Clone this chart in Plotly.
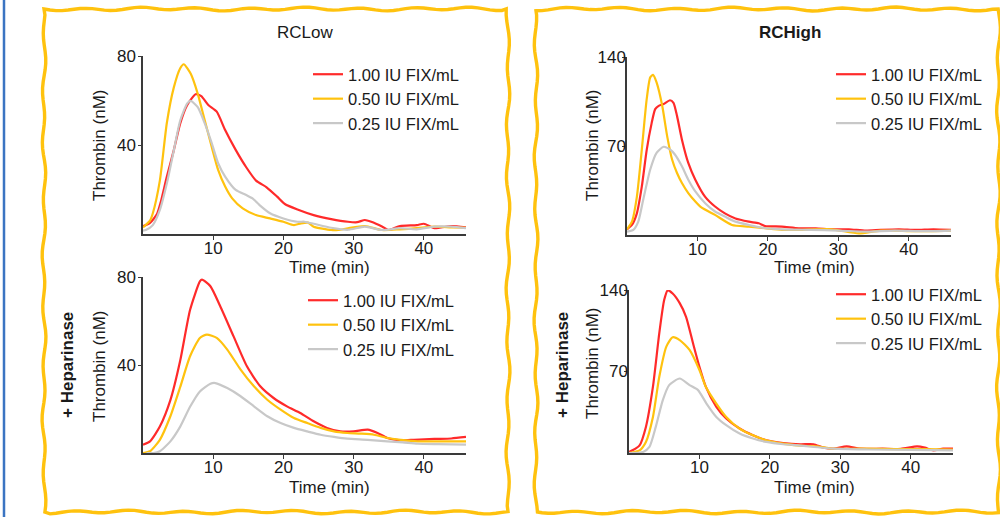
import math
import plotly.graph_objects as go

W, H = 1000, 517

# ---------------- data ----------------
series_names = ["1.00 IU FIX/mL", "0.50 IU FIX/mL", "0.25 IU FIX/mL"]
series_colors = ["#FF2A2A", "#FFC20E", "#C8C8C8"]

# RCLow (top-left)
low_red_t = [0, 1, 2, 2.5, 3.4, 4.4, 5.3, 6.3, 7.5, 8.3, 9.3, 10.5, 11.7, 13.2, 14.7, 16.1, 17.6, 19.1, 20.2, 22, 24.3, 26.8, 29.2, 30.5, 31.6, 32.5, 34.1, 35, 36.6, 39, 40, 41.5, 43.9, 46]
low_red_v = [3.5, 5, 9, 14, 25.8, 37.8, 49.7, 58, 62.8, 62, 58, 55, 46.7, 37.8, 30, 24, 21, 16.8, 13.5, 11, 8.5, 6.7, 5.5, 5.3, 6.3, 5.5, 3.3, 1.8, 3.6, 4, 4.6, 2.6, 3.6, 3]
low_yel_t = [0, 1, 1.4, 2.4, 3.4, 4.4, 5.3, 5.8, 6.8, 7.8, 8.8, 9.8, 10.7, 11.7, 12.7, 14.2, 16.1, 18.1, 20, 21.5, 22.5, 23.5, 24.3, 26.8, 27.8, 29.2, 31.6, 34, 36.6, 39, 41.5, 43.9, 46]
low_yel_v = [3, 6, 9.3, 24, 50, 66, 74.5, 76.3, 72, 63, 51, 39, 28.8, 21.3, 16, 11.5, 8.5, 7, 5.5, 4, 4.8, 5.1, 3.3, 1.8, 1.8, 2.6, 3.6, 1.8, 2.1, 2.6, 3.3, 3, 2.8]
low_gry_t = [0, 0.4, 1.4, 2.4, 3.4, 4.4, 5.3, 6.3, 6.8, 7.8, 8.8, 9.8, 10.7, 11.7, 13.2, 14.7, 15.6, 16.6, 18.1, 20, 22, 23, 24.3, 26.8, 29.2, 31.6, 34, 36.6, 39, 41.5, 43.9, 46]
low_gry_v = [1.5, 1.8, 4, 10.8, 22.8, 37.8, 51, 58.7, 59.8, 57, 49.7, 40.7, 31.8, 25.8, 19.8, 17.5, 16, 13, 9.3, 7, 5.5, 5.5, 4.6, 2.8, 1.9, 3.3, 1.8, 2.6, 2.1, 3.3, 3.3, 2.6]

# RCHigh (top-right)
high_red_t = [0, 0.7, 1.4, 2.1, 2.8, 3.5, 4, 4.5, 5.2, 6.1, 6.6, 7.1, 7.8, 8.7, 9.7, 11.1, 12.5, 13.9, 15.4, 17.3, 18.7, 19.6, 22, 24.4, 26.8, 29, 31.5, 33.9, 36, 38.6, 41, 43.5, 46]
high_red_v = [4.5, 7.9, 17, 38, 67, 88, 99, 101.6, 103, 106, 104, 93.7, 75, 56.7, 43.5, 30, 22.4, 17, 13, 10.5, 9.2, 7.1, 6.6, 5.3, 5.3, 4.5, 4.5, 3.4, 4, 4.5, 4, 4.5, 4]
high_yel_t = [0, 0.7, 1.4, 2.1, 2.8, 3.3, 3.7, 4.2, 5, 5.7, 6.4, 7.1, 7.8, 8.7, 9.7, 10.5, 12.5, 14.9, 17.3, 19.6, 22, 24.4, 29, 32.9, 36, 41, 46]
high_yel_v = [4.5, 10.5, 30, 67, 107, 124, 125.9, 120, 101.6, 77.8, 59.4, 48.8, 40.9, 33, 26.4, 22, 15.8, 7.9, 6.6, 5.3, 4, 4, 4.5, 1.3, 3.5, 3, 3.5]
high_gry_t = [0, 0.9, 1.6, 2.3, 3.3, 4.2, 5.2, 6.1, 6.8, 7.8, 8.7, 9.7, 11.1, 12.5, 13.9, 15.4, 17.3, 19.6, 22, 26, 30, 33.9, 38, 42, 46]
high_gry_v = [2.6, 4, 10.5, 27.7, 51.5, 64.6, 69.4, 67.3, 63.3, 54, 43.5, 34.3, 25, 18.5, 14.5, 10.5, 7.9, 5.3, 4.5, 4, 3.5, 2.6, 3.5, 3, 3.5]

# RCLow + Heparinase (bottom-left)
lowh_red_t = [0, 1, 2.4, 3.9, 5.3, 6.7, 8.1, 8.4, 9.6, 11, 12.9, 14.8, 16.7, 18.6, 20.5, 22.4, 24.3, 26.2, 28.1, 30, 32, 33.4, 34.8, 36.7, 38.6, 41.5, 43.9, 46]
lowh_red_v = [3.8, 5.3, 12, 24, 42, 65, 78, 78.8, 75.8, 66.7, 53, 39.4, 30.3, 25, 21.2, 18.2, 14.4, 11.4, 9.8, 9.8, 10.6, 9.1, 6.8, 5.8, 6, 6.4, 6.6, 7.3]
lowh_yel_t = [0, 1, 2.4, 3.9, 5.3, 6.7, 8.1, 9.1, 10.5, 12, 13.9, 15.8, 17.7, 19.6, 21.5, 23.4, 25.3, 27.2, 29.1, 31, 32.9, 34.8, 36.7, 39.1, 42, 46]
lowh_yel_v = [0, 0.8, 6, 16.7, 30, 44, 52.3, 53.8, 52.3, 47, 37.9, 30.3, 24.2, 19.7, 15.9, 13.6, 11.4, 9.8, 9.1, 8.8, 8.3, 6.8, 6, 5.3, 5.3, 5.3]
lowh_gry_t = [0.5, 1.5, 2.4, 3.9, 5.3, 6.7, 8.1, 9.6, 10.3, 12, 13.9, 15.8, 17.7, 19.6, 21.5, 23.4, 25.3, 27.2, 29.1, 32, 34.8, 37, 39.1, 42, 46]
lowh_gry_v = [0, 0, 0.8, 5.3, 12, 21, 28, 31.5, 31.8, 29.5, 25.8, 21.2, 16.7, 13.6, 11.4, 9.8, 8.3, 7.3, 6.5, 6, 5.3, 4.8, 4.2, 4, 3.8]

# RCHigh + Heparinase (bottom-right)
highh_red_t = [0, 0.5, 1.5, 2.4, 3.4, 4.3, 5, 5.5, 6.2, 7.2, 8.1, 9.1, 10, 10.9, 12.4, 13.8, 15.7, 17.6, 19.5, 21.9, 24.3, 26.2, 27.6, 29, 30.9, 32.8, 36, 38.6, 40.9, 42, 43.2, 44.6, 46]
highh_red_v = [1, 2.3, 6.6, 22.4, 57, 103, 131.6, 139.7, 137, 128.7, 117, 94, 74, 57, 39.7, 29.6, 21, 15.2, 10.9, 8.6, 7.5, 7.5, 4.6, 3.7, 5.7, 3.7, 3.7, 3.5, 5.7, 4.6, 2.3, 3.7, 3.7]
highh_yel_t = [0, 1.5, 2.4, 3.4, 4.3, 5.3, 6.2, 7.2, 8.6, 10, 10.9, 12.4, 13.8, 15.7, 17.6, 19.5, 21.9, 24.3, 26.6, 29, 33, 38, 42, 46]
highh_yel_v = [0, 2.3, 9.5, 31, 65.5, 91.4, 99.4, 97, 88.5, 71.3, 57, 42.5, 31, 21, 15.2, 10.9, 8, 6.3, 5.7, 3.7, 3.7, 3.4, 3.4, 2.9]
highh_gry_t = [0, 2, 2.9, 3.8, 4.8, 5.7, 7.2, 8.6, 9.8, 11, 12.4, 13.8, 15.7, 17.6, 19.5, 21.9, 24.3, 29, 34, 40, 46]
highh_gry_v = [0, 0.9, 5.2, 22.4, 45.4, 58.3, 64, 58.3, 54, 42.5, 31, 23.9, 16.7, 12.4, 9.5, 7.5, 6.3, 3.7, 3, 2.6, 2.3]

x_ticks = [10, 20, 30, 40]
low_y_ticks = [40, 80]
high_y_ticks = [70, 140]

# ---------------- layout helpers ----------------
def px(x):
    return x / W

def py(y):
    return 1 - y / H

FONT = "Liberation Sans, Arial, sans-serif"
TXT = "#1a1a1a"
AX = "#3a3a3a"

panels = [
    # (suffix, x0, x1, ytop, ybottom, ymax, yticks, ylabel standoff, data, legend key, legend text x, legend first row y)
    ("", 143, 466, 56, 234, 80, low_y_ticks, -1,
     [(low_red_t, low_red_v), (low_yel_t, low_yel_v), (low_gry_t, low_gry_v)], "legend", 348, 72),
    ("2", 627, 951, 57, 235, 140, high_y_ticks, -7,
     [(high_red_t, high_red_v), (high_yel_t, high_yel_v), (high_gry_t, high_gry_v)], "legend2", 871, 72),
    ("3", 143, 466, 277, 453, 80, low_y_ticks, -1,
     [(lowh_red_t, lowh_red_v), (lowh_yel_t, lowh_yel_v), (lowh_gry_t, lowh_gry_v)], "legend3", 343, 298),
    ("4", 629, 953, 290, 453, 140, high_y_ticks, -7,
     [(highh_red_t, highh_red_v), (highh_yel_t, highh_yel_v), (highh_gry_t, highh_gry_v)], "legend4", 871, 292),
]

fig = go.Figure()
layout = dict(
    width=W, height=H,
    margin=dict(l=0, r=0, t=0, b=0, autoexpand=False),
    paper_bgcolor="white", plot_bgcolor="white",
    font=dict(family=FONT, size=17, color=TXT),
    showlegend=True,
)

for suffix, x0, x1, ytop, ybot, ymax, yticks, ystand, data, leg, leg_x, leg_y in panels:
    xa = "xaxis" + suffix
    ya = "yaxis" + suffix
    xr = "x" + suffix
    yr = "y" + suffix
    layout[xa] = dict(
        domain=[px(x0), px(x1)], anchor=yr, range=[0, 46],
        tickvals=x_ticks, ticks="outside", ticklen=4, tickwidth=1.3, tickcolor=AX,
        ticklabelstandoff=-6,
        showline=True, linecolor=AX, linewidth=1.5, showgrid=False, zeroline=False,
        tickfont=dict(size=17, color=TXT, family=FONT),
    )
    layout[ya] = dict(
        domain=[py(ybot), py(ytop)], anchor=xr, range=[0, ymax],
        tickvals=yticks, ticks="outside", ticklen=3, tickwidth=1.3, tickcolor=AX,
        ticklabelstandoff=ystand,
        showline=True, linecolor=AX, linewidth=1.5, showgrid=False, zeroline=False,
        tickfont=dict(size=17, color=TXT, family=FONT),
    )
    layout[leg] = dict(
        x=px(leg_x - 40), y=py(leg_y - 15), xanchor="left", yanchor="top",
        xref="container", yref="container",
        bgcolor="rgba(0,0,0,0)", borderwidth=0,
        font=dict(size=16.5, color=TXT, family=FONT),
        tracegroupgap=0, itemwidth=30,
    )
    for i, (tt, vv) in enumerate(data):
        fig.add_trace(go.Scatter(
            x=tt, y=vv, mode="lines", name=series_names[i],
            line=dict(color=series_colors[i], width=2.2, shape="spline", smoothing=0.6),
            xaxis=xr, yaxis=yr, legend=leg, legendgroup=leg + str(i),
            showlegend=True,
        ))

fig.update_layout(**layout)

# ---------------- text annotations ----------------
def ann(text, x, y, angle=0, bold=False, size=17):
    fig.add_annotation(
        text=("<b>%s</b>" % text) if bold else text,
        x=px(x), y=py(y), xref="paper", yref="paper",
        xanchor="center", yanchor="middle", showarrow=False, textangle=angle,
        font=dict(size=size, color=TXT, family=FONT),
    )

ann("RCLow", 305, 33)
ann("RCHigh", 790, 33, bold=True)
ann("Thrombin (nM)", 99, 146, angle=-90)
ann("Thrombin (nM)", 592, 146, angle=-90)
ann("Thrombin (nM)", 99, 367, angle=-90)
ann("Thrombin (nM)", 592, 364, angle=-90)
ann("+ Heparinase", 67, 365, angle=-90, bold=True)
ann("+ Heparinase", 562, 365, angle=-90, bold=True)
ann("Time (min)", 329, 267)
ann("Time (min)", 329, 487)
ann("Time (min)", 814, 267)
ann("Time (min)", 814, 487)

# ---------------- decorative frames ----------------
def wavy_rect(x0, y0, x1, y1, amp=1.3, wl=55.0, phase=0.0):
    pts = []
    def edge(ax, ay, bx, by, ph):
        L = math.hypot(bx - ax, by - ay)
        n = max(2, int(L / 6))
        nx, ny = -(by - ay) / L, (bx - ax) / L
        for k in range(n):
            s = k / n
            d = amp * math.sin(2 * math.pi * s * L / wl + ph) + 0.5 * amp * math.sin(2 * math.pi * s * L / (wl * 2.7) + ph * 1.7)
            pts.append((ax + (bx - ax) * s + nx * d, ay + (by - ay) * s + ny * d))
    edge(x0, y0, x1, y0, phase)
    edge(x1, y0, x1, y1, phase + 1.1)
    edge(x1, y1, x0, y1, phase + 2.3)
    edge(x0, y1, x0, y0, phase + 0.4)
    return "M " + " L ".join("%.5f,%.5f" % (px(a), py(b)) for a, b in pts) + " Z"

for (fx0, fy0, fx1, fy1, ph) in [(44, 9, 508, 512, 0.0), (536, 9, 998.5, 512, 1.3)]:
    fig.add_shape(type="path", path=wavy_rect(fx0, fy0, fx1, fy1, phase=ph),
                  xref="paper", yref="paper", line=dict(color="#FFC20E", width=3.4),
                  fillcolor="rgba(0,0,0,0)", layer="below")

fig.add_shape(type="line", x0=px(4), x1=px(4), y0=0, y1=1, xref="paper", yref="paper",
              line=dict(color="#3B74C2", width=2.5))

fig.write_html(
    "out.html",
    config={"displayModeBar": False},
    post_script="document.body.style.margin='0';document.body.style.padding='0';document.body.style.overflow='hidden';",
)
